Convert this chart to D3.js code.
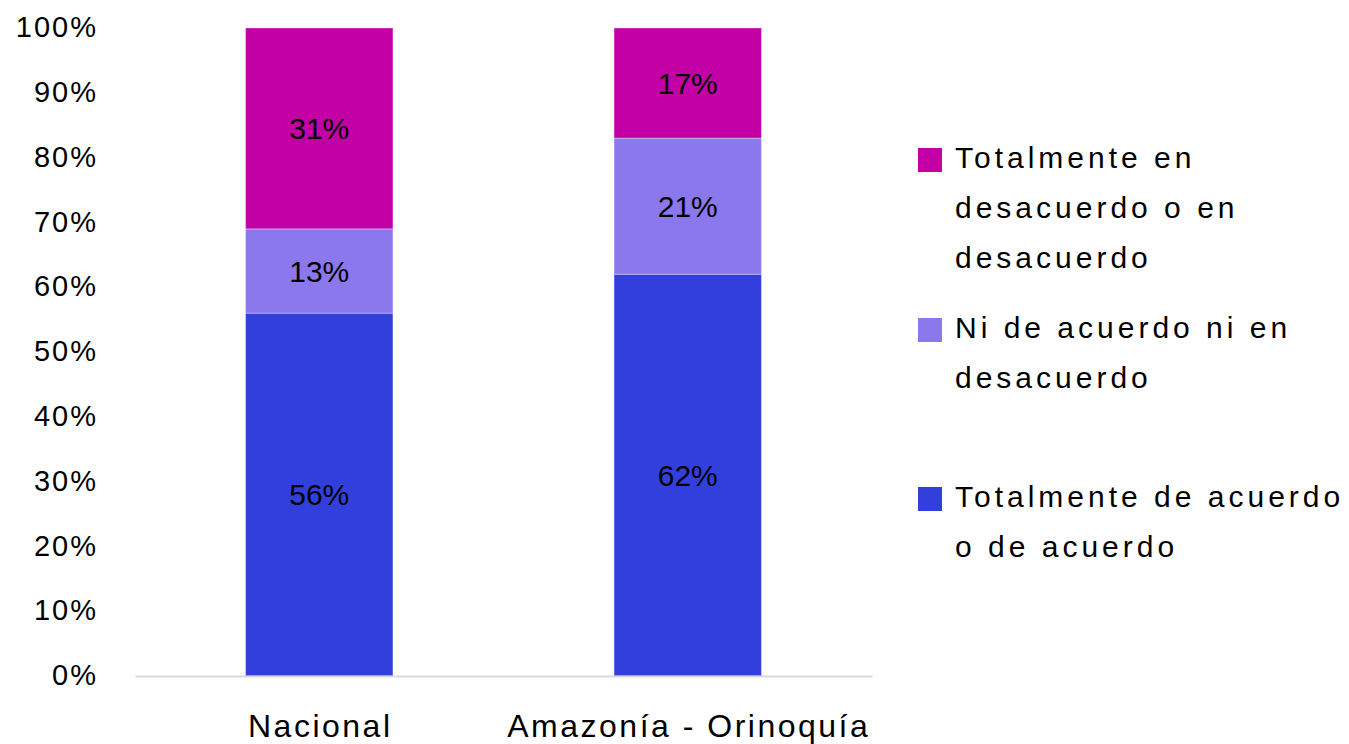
<!DOCTYPE html>
<html>
<head>
<meta charset="utf-8">
<script src="https://cdn.jsdelivr.net/npm/d3@7"></script>
<style>
  body { margin: 0; background: #fff; }
  text { font-family: "Liberation Sans", Arial, sans-serif; fill: #000; }
</style>
</head>
<body>
<div id="chart"></div>
<script>
var categories = ["Nacional", "Amazonía - Orinoquía"];
var acuerdo = [56, 62];
var neutral = [13, 21];
var desacuerdo = [31, 17];
var seriesNames = ["Totalmente de acuerdo o de acuerdo", "Ni de acuerdo ni en desacuerdo", "Totalmente en desacuerdo o en desacuerdo"];
var legendLines = [
    ["Totalmente en", "desacuerdo o en", "desacuerdo"],
    ["Ni de acuerdo ni en", "desacuerdo"],
    ["Totalmente de acuerdo", "o de acuerdo"]
];
var colors = ["#3140dc", "#8b78ec", "#c300a5"];
var yTicks = [0, 10, 20, 30, 40, 50, 60, 70, 80, 90, 100];

var width = 1349, height = 744;
var svg = d3.select("#chart").append("svg")
    .attr("width", width)
    .attr("height", height);

var x = d3.scaleBand()
    .domain(categories)
    .range([135, 872])
    .paddingInner(0.6)
    .paddingOuter(0.3);

var y = d3.scaleLinear()
    .domain([0, 100])
    .range([676, 28]);

// stacked data
var rows = categories.map(function (c, i) {
    return {cat: c, a: acuerdo[i], n: neutral[i], d: desacuerdo[i]};
});
var stack = d3.stack().keys(["a", "n", "d"]);
var layers = stack(rows);

// y axis labels only
var yAxis = svg.append("g")
    .attr("transform", "translate(110,0)")
    .call(d3.axisLeft(y).tickValues(yTicks).tickSize(0).tickPadding(12)
        .tickFormat(function (d) { return d + "%"; }));
yAxis.select(".domain").remove();
yAxis.selectAll("text")
    .style("font-size", "29px")
    .style("letter-spacing", "2px")
    .attr("dy", "0.3em");

// bars
var groups = svg.append("g").selectAll("g")
    .data(layers)
    .enter()
    .append("g")
    .attr("fill", function (d, i) { return colors[i]; });

groups.selectAll("rect")
    .data(function (d) { return d; })
    .enter()
    .append("rect")
    .attr("x", function (d) { return x(d.data.cat); })
    .attr("y", function (d) { return y(d[1]); })
    .attr("width", x.bandwidth())
    .attr("height", function (d) { return y(d[0]) - y(d[1]); })
    .attr("stroke", "#ffffff")
    .attr("stroke-opacity", 0.35)
    .attr("stroke-width", 1);

// value labels
groups.selectAll("text")
    .data(function (d) { return d; })
    .enter()
    .append("text")
    .attr("x", function (d) { return x(d.data.cat) + x.bandwidth() / 2; })
    .attr("y", function (d) { return (y(d[0]) + y(d[1])) / 2; })
    .attr("dy", "0.36em")
    .attr("text-anchor", "middle")
    .style("font-size", "30px")
    .text(function (d) { return (d[1] - d[0]) + "%"; });

// x axis
var xAxis = svg.append("g")
    .attr("transform", "translate(0,676)")
    .call(d3.axisBottom(x).tickSize(0).tickPadding(38));
xAxis.select(".domain").attr("stroke", "#d9d9d9").attr("stroke-width", 2);
xAxis.selectAll("text")
    .style("font-size", "32px")
    .style("letter-spacing", "2.5px")
    .attr("dx", "1px")
    .attr("dy", "0.71em");

// legend
var legendTop = [148, 318, 487];
var legend = svg.append("g").selectAll("g")
    .data(legendLines)
    .enter()
    .append("g")
    .attr("transform", function (d, i) { return "translate(918," + legendTop[i] + ")"; });

legend.append("rect")
    .attr("width", 24)
    .attr("height", 24)
    .attr("fill", function (d, i) { return colors[2 - i]; });

legend.append("text")
    .style("font-size", "30px")
    .style("letter-spacing", "4px")
    .selectAll("tspan")
    .data(function (d) { return d; })
    .enter()
    .append("tspan")
    .attr("x", 37)
    .attr("y", function (d, i) { return 20 + i * 50; })
    .text(function (d) { return d; });
</script>
</body>
</html>
